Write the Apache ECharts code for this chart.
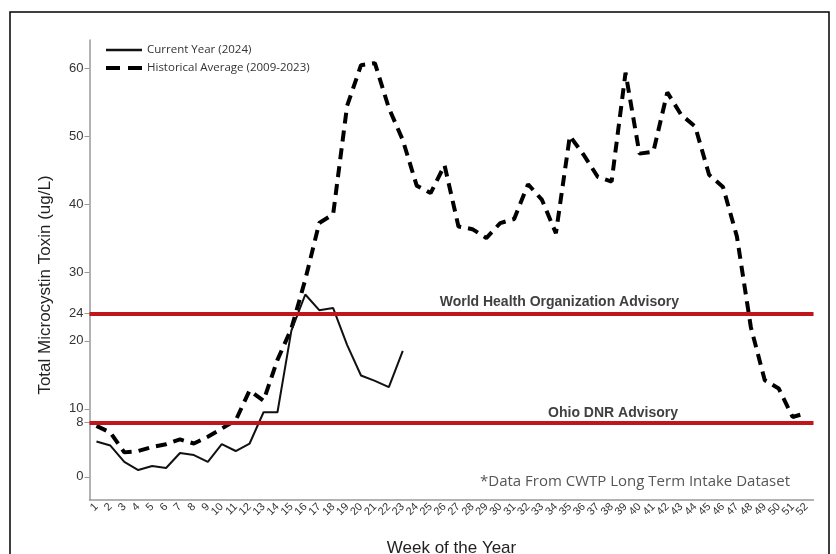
<!DOCTYPE html>
<html>
<head>
<meta charset="utf-8">
<script src="https://cdn.jsdelivr.net/npm/echarts@6/dist/echarts.min.js"></script>
<style>html,body{margin:0;padding:0;background:#fff}#c{width:836px;height:554px}</style>
</head>
<body>
<div id="c"></div>
<script>
const weeks = Array.from({length: 52}, (_, i) => String(i + 1));
const currentYear = [5.2, 4.6, 2.2, 1.0, 1.6, 1.3, 3.5, 3.2, 2.2, 4.8, 3.8, 4.9, 9.5, 9.5, 21.5, 26.8, 24.5, 24.8, 19.4, 14.9, 14.1, 13.2, 18.5];
const historical = [7.5, 6.5, 3.6, 3.8, 4.4, 4.8, 5.5, 4.9, 5.9, 7.1, 8.3, 12.7, 11.2, 17.2, 21.8, 29.0, 37.3, 38.6, 54.5, 60.5, 60.8, 54.2, 49.5, 42.8, 41.7, 45.8, 36.8, 36.4, 35.1, 37.3, 37.9, 43.0, 40.7, 35.8, 50.1, 47.3, 44.1, 43.4, 59.4, 47.5, 47.8, 56.5, 53.2, 51.5, 44.4, 42.6, 35.3, 22.0, 14.2, 13.0, 8.8, 9.4];
const yTicks = [0, 8, 10, 20, 24, 30, 40, 50, 60];
const advisories = [{name: 'World Health Organization Advisory', value: 24}, {name: 'Ohio DNR Advisory', value: 8}];

const chart = echarts.init(document.getElementById('c'));
chart.setOption({
  animation: false,
  backgroundColor: '#fff',
  grid: {left: 89.5, right: 22.5, top: 40, bottom: 54, containLabel: false, outerBoundsMode: 'none'},
  legend: {
    orient: 'vertical', left: 99, top: 39, itemWidth: 36, itemHeight: 14, itemGap: 6,
    itemStyle: {color: 'rgba(0,0,0,0)', borderWidth: 0},
    textStyle: {fontFamily: 'Open Sans', fontSize: 11.5, color: '#333'},
    data: [
      {name: 'Current Year (2024)', lineStyle: {width: 2.5, color: '#111', type: 'solid'}},
      {name: 'Historical Average (2009-2023)', lineStyle: {width: 4, color: '#000', type: [14, 8]}}
    ]
  },
  xAxis: {
    type: 'category', data: weeks, boundaryGap: true,
    name: 'Week of the Year', nameLocation: 'middle', nameGap: 40,
    nameTextStyle: {fontFamily: 'Liberation Sans', fontSize: 17, color: '#222'},
    axisLine: {onZero: false, lineStyle: {color: '#999', width: 1.5}},
    axisTick: {alignWithLabel: true, length: 5, lineStyle: {color: '#999'}},
    axisLabel: {interval: 0, rotate: 45, fontFamily: 'Liberation Sans', fontSize: 11, color: '#333', margin: 5}
  },
  yAxis: {
    type: 'value', min: -3.4, max: 64.2,
    axisLine: {show: true, lineStyle: {color: '#999', width: 1.5}},
    axisTick: {show: true, length: 5, lineStyle: {color: '#999'}, customValues: yTicks},
    axisLabel: {fontFamily: 'Liberation Sans', fontSize: 13, color: '#333', margin: 6, customValues: yTicks},
    splitLine: {show: false}
  },
  series: [
    {
      name: 'Current Year (2024)', type: 'line', data: currentYear, symbol: 'none',
      lineStyle: {color: '#111', width: 2}, itemStyle: {color: '#111'}, z: 3
    },
    {
      name: 'Historical Average (2009-2023)', type: 'line', data: historical, symbol: 'none',
      lineStyle: {color: '#000', width: 4, type: [11, 7]}, itemStyle: {color: '#000'}, z: 2,
      markLine: {
        silent: true, symbol: 'none',
        lineStyle: {color: '#c0161b', width: 4, type: 'solid'},
        label: {show: false},
        data: advisories.map(a => ({yAxis: a.value}))
      }
    }
  ],
  graphic: [
    {type: 'rect', shape: {x: 10, y: 12, width: 819, height: 600}, style: {fill: 'none', stroke: '#000', lineWidth: 1.5}, silent: true},
    {type: 'text', x: 45, y: 285, rotation: Math.PI / 2,
      style: {text: 'Total Microcystin Toxin (ug/L)', font: '17px "Liberation Sans"', fill: '#222', align: 'center', verticalAlign: 'middle'}},
    {type: 'text', x: 679, y: 302,
      style: {text: advisories[0].name, font: 'bold 14px "Liberation Sans"', fill: '#404040', align: 'right', verticalAlign: 'middle'}},
    {type: 'text', x: 678, y: 413,
      style: {text: advisories[1].name, font: 'bold 14px "Liberation Sans"', fill: '#404040', align: 'right', verticalAlign: 'middle'}},
    {type: 'text', x: 790, y: 482,
      style: {text: '*Data From CWTP Long Term Intake Dataset', font: '15px "Open Sans"', fill: '#555', align: 'right', verticalAlign: 'middle'}}
  ]
});
</script>
</body>
</html>
